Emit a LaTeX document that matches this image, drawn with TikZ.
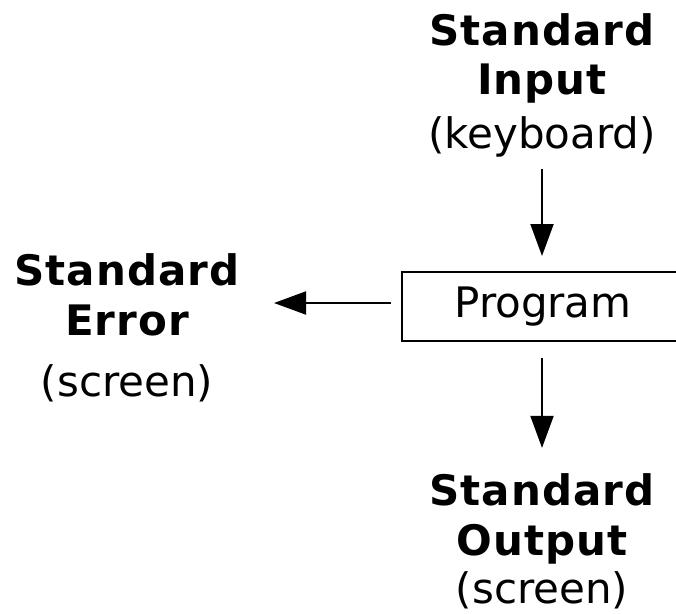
\documentclass[tikz,border=0pt]{standalone}
\usepackage{fontspec}
\setmainfont[BoldFeatures={LetterSpace=2.5}]{DejaVu Sans}
\usetikzlibrary{arrows.meta}

\tikzset{
  title/.style={anchor=base, inner sep=0pt, font=\fontsize{42}{50}\selectfont\bfseries},
  sub/.style={anchor=base, inner sep=0pt, font=\fontsize{42}{50}\selectfont},
  progbox/.style={draw, line width=2pt, minimum width=282pt, minimum height=69pt,
                  inner sep=0pt, font=\fontsize{42}{50}\selectfont},
  flow/.style={line width=2pt, -{Triangle[length=32pt, width=23pt]}}
}

\begin{document}
\begin{tikzpicture}[x=1pt, y=-1pt]
  \useasboundingbox (0,0) rectangle (676,613);
  \clip (0,0) rectangle (676,613);

  % the program box (runs past the right edge)
  \node[progbox] (prog) at (543,306.5) {Program};

  % standard input
  \node[title] (in1) at (542,45) {Standard};
  \node[title] (in2) at (542,94) {Input};
  \node[sub]   (in3) at (542,148) {(keyboard)};

  % standard error
  \node[title] (err1) at (127,285) {Standard};
  \node[title] (err2) at (127,335) {Error};
  \node[sub]   (err3) at (127,396) {(screen)};

  % standard output
  \node[title] (out1) at (542,505) {Standard};
  \node[title] (out2) at (542,555) {Output};
  \node[sub]   (out3) at (542,603) {(screen)};

  % streams
  \draw[flow] ([yshift=-12pt]in3.south) -- ([yshift=15pt]prog.north -| in3.south);
  \draw[flow] ([yshift=-16pt]prog.south -| out1.north) -- ([yshift=25pt]out1.north);
  \draw[flow] ([xshift=-10pt, yshift=3.5pt]prog.west) -- ([xshift=-127pt, yshift=3.5pt]prog.west);
\end{tikzpicture}
\end{document}
